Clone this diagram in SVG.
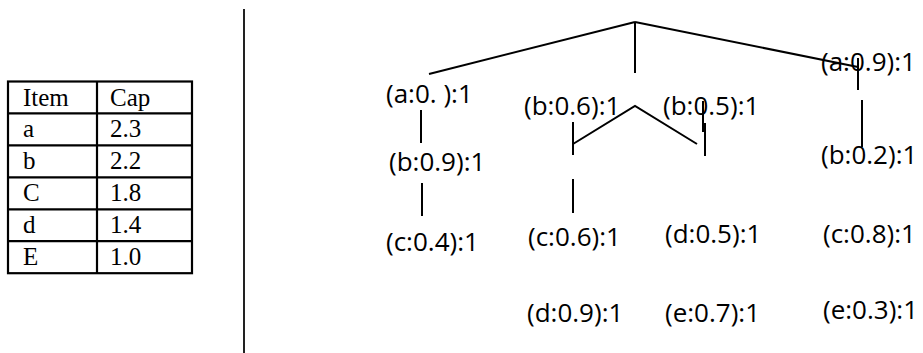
<svg xmlns="http://www.w3.org/2000/svg" width="923" height="353" viewBox="0 0 923 353">
<style>
.lbl{font-family:"Open Sans","Noto Sans","Liberation Sans",sans-serif;font-size:26px;fill:#000}
.tt{font-family:"Liberation Serif","Times New Roman",serif;font-size:25px;fill:#000}
.ln{stroke:#000;stroke-width:2;fill:none}
.tb{stroke:#000;stroke-width:2.2;fill:none}
</style>
<rect width="923" height="353" fill="#fff"/>
<g id="table">
<rect class="tb" x="8" y="81.5" width="184" height="191.7"/>
<line class="tb" x1="97" y1="81.5" x2="97" y2="273.2"/>
<line class="tb" x1="8" y1="113.4" x2="192" y2="113.4"/>
<line class="tb" x1="8" y1="145.4" x2="192" y2="145.4"/>
<line class="tb" x1="8" y1="177.3" x2="192" y2="177.3"/>
<line class="tb" x1="8" y1="209.3" x2="192" y2="209.3"/>
<line class="tb" x1="8" y1="241.2" x2="192" y2="241.2"/>
<text class="tt" x="23" y="105.5">Item</text><text class="tt" x="110" y="105.5">Cap</text>
<text class="tt" x="23" y="137.4">a</text><text class="tt" x="110" y="137.4">2.3</text>
<text class="tt" x="23" y="169.4">b</text><text class="tt" x="110" y="169.4">2.2</text>
<text class="tt" x="23" y="201.3">C</text><text class="tt" x="110" y="201.3">1.8</text>
<text class="tt" x="23" y="233.3">d</text><text class="tt" x="110" y="233.3">1.4</text>
<text class="tt" x="23" y="265.2">E</text><text class="tt" x="110" y="265.2">1.0</text>
</g>
<line x1="244" y1="9" x2="244" y2="353" stroke="#222" stroke-width="2"/>
<g id="connectors">
<line class="ln" x1="635" y1="22" x2="429" y2="74"/>
<line class="ln" x1="635" y1="22" x2="635" y2="73"/>
<line class="ln" x1="635" y1="22" x2="858" y2="67"/>
<line class="ln" x1="858" y1="58" x2="858" y2="90"/>
<line class="ln" x1="862" y1="100" x2="862" y2="147"/>
<line class="ln" x1="421" y1="110" x2="421" y2="143"/>
<line class="ln" x1="422" y1="183" x2="422" y2="216"/>
<line class="ln" x1="573" y1="122" x2="573" y2="155"/>
<polyline class="ln" points="573,144 635,106 697,144"/>
<line class="ln" x1="703" y1="101" x2="703" y2="132"/>
<line class="ln" x1="705" y1="123" x2="705" y2="156"/>
<line class="ln" x1="573" y1="179" x2="573" y2="213"/>
</g>
<g id="n-a0"><text class="lbl" x="386" y="103">(a:0. ):1</text></g>
<g id="n-b09"><text class="lbl" x="389" y="171">(b:0.9):1</text></g>
<g id="n-c04"><text class="lbl" x="386" y="251">(c:0.4):1</text></g>
<g id="n-b06"><text class="lbl" x="524" y="115">(b:0.6):1</text></g>
<g id="n-c06"><text class="lbl" x="528" y="246">(c:0.6):1</text></g>
<g id="n-d09"><text class="lbl" x="527" y="322">(d:0.9):1</text></g>
<g id="n-b05"><text class="lbl" x="663" y="115">(b:0.5):1</text></g>
<g id="n-d05"><text class="lbl" x="665" y="243">(d:0.5):1</text></g>
<g id="n-e07"><text class="lbl" x="665" y="322">(e:0.7):1</text></g>
<g id="n-a09"><text class="lbl" x="821" y="71">(a:0.9):1</text></g>
<g id="n-b02"><text class="lbl" x="821" y="164">(b:0.2):1</text></g>
<g id="n-c08"><text class="lbl" x="823" y="243">(c:0.8):1</text></g>
<g id="n-e03"><text class="lbl" x="823" y="319">(e:0.3):1</text></g>
</svg>
